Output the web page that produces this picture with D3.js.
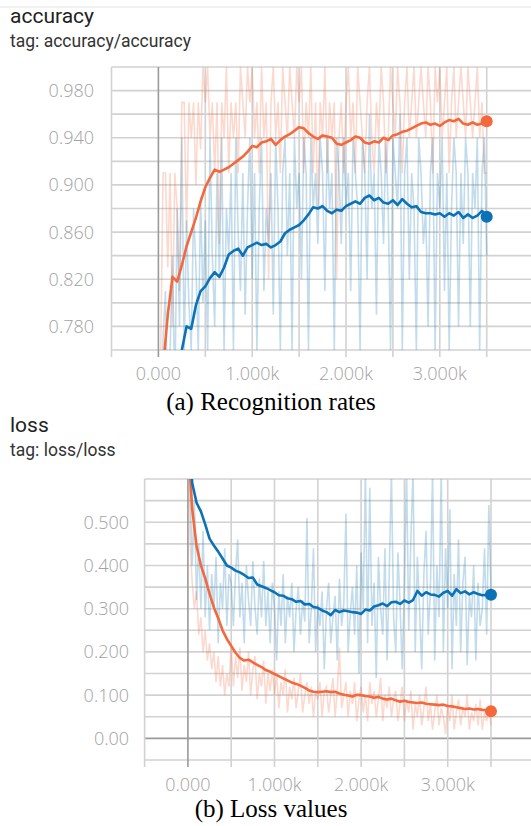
<!DOCTYPE html>
<html>
<head>
<meta charset="utf-8">
<script src="https://cdn.jsdelivr.net/npm/d3@7"></script>
<style>
  body { margin: 0; background: #fff; }
  svg { display: block; }
</style>
</head>
<body>
<div id="display-container"></div>
<script>
// training steps: raw points every 25 steps, smoothed every 50
var rawSteps = d3.range(0, 3501, 25);
var smoothSteps = d3.range(0, 3501, 50);

var xTickValues = [0, 1000, 2000, 3000];
var xTickLabels = ["0.000", "1.000k", "2.000k", "3.000k"];

// (a) accuracy
var accTickValues = [0.78, 0.82, 0.86, 0.90, 0.94, 0.98];
var accTickLabels = ["0.780", "0.820", "0.860", "0.900", "0.940", "0.980"];

var accOrangeRaw = [
  0.70, 0.76, 0.91, 0.91, 0.83, 0.91, 0.78, 0.91, 0.88, 0.81, 0.97, 0.97, 0.86, 0.97, 0.94, 0.97, 0.90, 0.97, 0.93, 1.00,
  0.97, 1.00, 0.94, 0.97, 0.91, 0.97, 0.85, 0.97, 0.94, 1.00, 0.91, 0.97, 0.94, 0.97, 0.91, 1.00, 0.97, 0.94, 1.00, 0.97,
  1.00, 0.94, 0.97, 0.91, 1.00, 0.94, 0.97, 0.82, 0.97, 1.00, 0.94, 0.97, 0.91, 1.00, 0.97, 0.94, 1.00, 0.97, 0.94, 1.00,
  0.97, 1.00, 0.91, 0.97, 0.94, 1.00, 0.91, 0.97, 0.88, 0.97, 0.94, 1.00, 0.91, 0.97, 0.94, 0.97, 0.82, 0.94, 0.97, 0.91,
  0.97, 1.00, 0.94, 0.97, 0.91, 1.00, 0.97, 0.94, 0.91, 0.97, 1.00, 0.94, 0.91, 0.97, 0.94, 1.00, 0.97, 0.91, 0.94, 1.00,
  0.97, 0.94, 1.00, 0.97, 0.91, 0.97, 1.00, 0.94, 0.97, 1.00, 0.94, 0.97, 1.00, 0.97, 0.94, 1.00, 0.97, 0.91, 1.00, 0.97,
  1.00, 0.94, 0.97, 1.00, 0.91, 0.97, 1.00, 0.94, 0.97, 1.00, 0.97, 0.94, 1.00, 0.97, 0.94, 0.97, 1.00, 0.94, 0.97, 0.91,
  0.91
];
var accBlueRaw = [
  0.60, 0.66, 0.77, 0.81, 0.70, 0.76, 0.84, 0.72, 0.88, 0.78, 0.94, 0.76, 0.87, 0.80, 0.76, 0.88, 0.83, 0.76, 0.89, 0.80,
  0.87, 0.76, 0.94, 0.84, 0.78, 0.91, 0.82, 0.94, 0.76, 0.88, 0.84, 0.91, 0.76, 0.94, 0.86, 0.81, 0.91, 0.79, 0.88, 0.94,
  0.82, 0.91, 0.76, 0.88, 0.94, 0.81, 0.88, 0.85, 0.91, 0.79, 0.94, 0.88, 0.76, 0.91, 0.94, 0.84, 0.91, 0.76, 0.94, 0.88,
  0.91, 0.82, 0.94, 0.91, 0.76, 0.94, 0.88, 0.91, 0.85, 0.94, 0.91, 0.81, 0.94, 0.88, 0.91, 0.76, 0.94, 0.91, 0.85, 0.94,
  0.88, 0.91, 0.81, 0.94, 0.91, 0.88, 0.76, 0.94, 0.91, 0.82, 0.96, 0.88, 0.91, 0.79, 0.94, 0.91, 0.85, 0.94, 0.88, 0.76,
  0.94, 0.91, 0.88, 0.96, 0.76, 0.91, 0.94, 0.82, 0.91, 0.88, 0.76, 0.94, 0.91, 0.85, 0.88, 0.78, 0.91, 0.94, 0.76, 0.91,
  0.88, 0.94, 0.81, 0.91, 0.76, 0.88, 0.94, 0.91, 0.78, 0.91, 0.85, 0.94, 0.91, 0.78, 0.91, 0.88, 0.94, 0.76, 0.91, 0.94,
  0.84
];
var accOrangeSmooth = [
  0.705, 0.745, 0.790, 0.822, 0.818, 0.832, 0.848, 0.860, 0.872, 0.886,
  0.898, 0.906, 0.913, 0.911, 0.913, 0.915, 0.918, 0.921, 0.924, 0.928,
  0.933, 0.932, 0.936, 0.937, 0.939, 0.934, 0.938, 0.941, 0.943, 0.946,
  0.949, 0.948, 0.944, 0.941, 0.939, 0.942, 0.941, 0.940, 0.935, 0.934,
  0.936, 0.938, 0.941, 0.940, 0.936, 0.935, 0.937, 0.936, 0.940, 0.938,
  0.942, 0.943, 0.945, 0.946, 0.948, 0.950, 0.952, 0.953, 0.951, 0.952,
  0.950, 0.953, 0.955, 0.954, 0.956, 0.952, 0.951, 0.953, 0.951, 0.952,
  0.954
];
var accBlueSmooth = [
  0.660, 0.690, 0.715, 0.735, 0.750, 0.760, 0.780, 0.778, 0.798, 0.810,
  0.814, 0.821, 0.826, 0.822, 0.830, 0.841, 0.844, 0.846, 0.840, 0.847,
  0.849, 0.851, 0.849, 0.850, 0.847, 0.849, 0.852, 0.859, 0.862, 0.864,
  0.866, 0.870, 0.875, 0.881, 0.880, 0.882, 0.878, 0.876, 0.879, 0.878,
  0.882, 0.884, 0.886, 0.884, 0.889, 0.891, 0.887, 0.889, 0.885, 0.884,
  0.887, 0.883, 0.888, 0.884, 0.881, 0.882, 0.877, 0.876, 0.876, 0.875,
  0.876, 0.873, 0.876, 0.874, 0.877, 0.872, 0.875, 0.872, 0.874, 0.878,
  0.873
];

// (b) loss
var lossTickValues = [0, 0.1, 0.2, 0.3, 0.4, 0.5];
var lossTickLabels = ["0.00", "0.100", "0.200", "0.300", "0.400", "0.500"];

var lossBlueRaw = [
  0.80, 0.58, 0.40, 0.55, 0.32, 0.45, 0.30, 0.48, 0.28, 0.40, 0.25, 0.38, 0.30, 0.42, 0.22, 0.36, 0.30, 0.44, 0.26, 0.38,
  0.36, 0.26, 0.38, 0.46, 0.28, 0.36, 0.22, 0.40, 0.32, 0.26, 0.41, 0.30, 0.24, 0.37, 0.28, 0.41, 0.26, 0.34, 0.22, 0.36,
  0.30, 0.18, 0.34, 0.26, 0.38, 0.22, 0.33, 0.28, 0.36, 0.20, 0.30, 0.35, 0.24, 0.32, 0.27, 0.51, 0.22, 0.30, 0.44, 0.20,
  0.31, 0.26, 0.34, 0.16, 0.30, 0.36, 0.22, 0.28, 0.33, 0.18, 0.37, 0.26, 0.31, 0.52, 0.20, 0.29, 0.35, 0.24, 0.40, 0.15,
  0.43, 0.30, 0.62, 0.22, 0.58, 0.26, 0.36, 0.14, 0.42, 0.30, 0.24, 0.44, 0.18, 0.38, 0.62, 0.28, 0.20, 0.43, 0.31, 0.16,
  0.36, 0.62, 0.25, 0.46, 0.62, 0.20, 0.42, 0.30, 0.16, 0.38, 0.48, 0.24, 0.34, 0.62, 0.18, 0.40, 0.28, 0.62, 0.20, 0.44,
  0.30, 0.53, 0.16, 0.38, 0.26, 0.46, 0.20, 0.36, 0.42, 0.17, 0.33, 0.28, 0.40, 0.18, 0.36, 0.26, 0.30, 0.44, 0.24, 0.54,
  0.34
];
var lossOrangeRaw = [
  0.75, 0.45, 0.36, 0.30, 0.34, 0.24, 0.28, 0.20, 0.25, 0.18, 0.22, 0.16, 0.20, 0.13, 0.19, 0.12, 0.17, 0.10, 0.15, 0.12,
  0.22, 0.12, 0.19, 0.14, 0.21, 0.11, 0.17, 0.13, 0.20, 0.10, 0.16, 0.19, 0.09, 0.15, 0.12, 0.18, 0.08, 0.15, 0.11, 0.16,
  0.10, 0.15, 0.07, 0.13, 0.10, 0.16, 0.06, 0.12, 0.09, 0.14, 0.07, 0.11, 0.15, 0.06, 0.10, 0.13, 0.08, 0.12, 0.05, 0.11,
  0.09, 0.13, 0.05, 0.11, 0.12, 0.06, 0.10, 0.14, 0.05, 0.11, 0.21, 0.07, 0.10, 0.13, 0.05, 0.11, 0.08, 0.13, 0.04, 0.09,
  0.12, 0.06, 0.10, 0.04, 0.13, 0.08, 0.11, 0.05, 0.09, 0.14, 0.04, 0.10, 0.07, 0.12, 0.05, 0.09, 0.11, 0.04, 0.08, 0.12,
  0.04, 0.09, 0.06, 0.11, 0.02, 0.08, 0.05, 0.10, 0.03, 0.07, 0.12, 0.04, 0.08, 0.02, 0.06, 0.10, 0.03, 0.07, 0.05, 0.01,
  0.08, 0.04, 0.10, 0.02, 0.06, 0.09, 0.03, 0.07, 0.05, 0.10, 0.02, 0.06, 0.04, 0.08, 0.03, 0.09, 0.02, 0.06, 0.04, 0.07,
  0.03
];
var lossBlueSmooth = [
  0.750, 0.590, 0.545, 0.525, 0.495, 0.462, 0.446, 0.432, 0.416, 0.400,
  0.395, 0.388, 0.384, 0.378, 0.371, 0.372, 0.356, 0.352, 0.348, 0.343,
  0.338, 0.331, 0.330, 0.324, 0.322, 0.316, 0.318, 0.310, 0.311, 0.304,
  0.302, 0.296, 0.292, 0.285, 0.297, 0.292, 0.296, 0.294, 0.292, 0.291,
  0.288, 0.298, 0.296, 0.305, 0.308, 0.312, 0.306, 0.315, 0.316, 0.311,
  0.319, 0.314, 0.320, 0.341, 0.330, 0.338, 0.333, 0.332, 0.328, 0.337,
  0.341, 0.330, 0.345, 0.336, 0.340, 0.333, 0.338, 0.334, 0.331, 0.332,
  0.332
];
var lossOrangeSmooth = [
  0.700, 0.530, 0.445, 0.400, 0.370, 0.335, 0.303, 0.278, 0.250, 0.230,
  0.214, 0.198, 0.186, 0.180, 0.182, 0.176, 0.170, 0.165, 0.158, 0.154,
  0.149, 0.144, 0.139, 0.134, 0.129, 0.126, 0.122, 0.117, 0.111, 0.108,
  0.107, 0.108, 0.109, 0.107, 0.108, 0.104, 0.101, 0.099, 0.097, 0.101,
  0.100, 0.098, 0.097, 0.094, 0.096, 0.092, 0.090, 0.092, 0.088, 0.085,
  0.087, 0.084, 0.083, 0.082, 0.083, 0.080, 0.079, 0.078, 0.077, 0.078,
  0.075, 0.074, 0.072, 0.070, 0.068, 0.069, 0.067, 0.068, 0.066, 0.065,
  0.063
];

var orange = "#f4683c";
var blue = "#0a72b5";

var width = 531, height = 826;
var svg = d3.select("#display-container").append("svg")
    .attr("width", width)
    .attr("height", height);

// faint rule at the very top
svg.append("line")
    .attr("x1", 0).attr("x2", width)
    .attr("y1", 7).attr("y2", 7)
    .style("stroke", "#e4e4e4").style("stroke-width", 1);

function panel(opt) {
    var x = d3.scaleLinear().domain([-500, 3500]).range([opt.left, opt.xEnd]);
    var y = d3.scaleLinear().domain(opt.yDomain).range([opt.bottom, opt.top]);
    var g = svg.append("g");

    // header
    g.append("text")
        .attr("x", 10).attr("y", opt.titleY)
        .style("font-family", "Roboto, sans-serif")
        .style("font-size", "21px")
        .style("fill", "#222")
        .text(opt.title);
    g.append("text")
        .attr("x", 10).attr("y", opt.titleY + 24)
        .style("font-family", "Roboto, sans-serif")
        .style("font-size", "17.5px")
        .style("fill", "#333")
        .text(opt.tag);

    var clipId = "clip-" + opt.id;
    g.append("clipPath").attr("id", clipId)
      .append("rect")
        .attr("x", opt.left).attr("y", opt.top)
        .attr("width", width - opt.left).attr("height", opt.bottom - opt.top);

    // grid
    g.selectAll(".hgrid")
        .data(opt.hGrid)
        .enter().append("line")
        .attr("x1", opt.left).attr("x2", width)
        .attr("y1", function(d) { return y(d); })
        .attr("y2", function(d) { return y(d); })
        .style("stroke", function(d) { return Math.abs(d) < 1e-9 ? "#9a9a9a" : "#d2d2d2"; })
        .style("stroke-width", 1.6);

    g.selectAll(".vgrid")
        .data(d3.range(-500, 3501, 500))
        .enter().append("line")
        .attr("x1", function(d) { return x(d); })
        .attr("x2", function(d) { return x(d); })
        .attr("y1", opt.top).attr("y2", opt.bottom + 7)
        .style("stroke", function(d) { return d === 0 ? "#9a9a9a" : "#d2d2d2"; })
        .style("stroke-width", 1.6);

    // tick labels
    g.selectAll(".ylab")
        .data(opt.yTicks)
        .enter().append("text")
        .attr("x", opt.labelRight)
        .attr("y", function(d) { return y(d); })
        .attr("dy", "0.36em")
        .style("text-anchor", "end")
        .style("font-family", "'Open Sans', sans-serif")
        .style("font-weight", 300)
        .style("font-size", "18px")
        .style("fill", "#a2a2a2")
        .text(function(d, i) { return opt.yLabels[i]; });

    g.selectAll(".xlab")
        .data(xTickValues)
        .enter().append("text")
        .attr("x", function(d) { return x(d); })
        .attr("y", opt.xLabelY)
        .style("text-anchor", "middle")
        .style("font-family", "'Open Sans', sans-serif")
        .style("font-weight", 300)
        .style("font-size", "18px")
        .style("fill", "#a2a2a2")
        .text(function(d, i) { return xTickLabels[i]; });

    // caption
    g.append("text")
        .attr("x", 271).attr("y", opt.captionY)
        .style("text-anchor", "middle")
        .style("font-family", "'Liberation Serif', 'Times New Roman', serif")
        .style("font-size", "25px")
        .style("fill", "#000")
        .text(opt.caption);

    var plot = g.append("g").attr("clip-path", "url(#" + clipId + ")");
    var line = d3.line()
        .x(function(d) { return x(d[0]); })
        .y(function(d) { return y(d[1]); });

    function pairs(steps, vals) {
        return vals.map(function(v, i) { return [steps[i], v]; });
    }

    opt.series.forEach(function(s) {
        plot.append("path")
            .datum(pairs(rawSteps, s.raw))
            .attr("d", line)
            .style("fill", "none")
            .style("stroke", s.color)
            .style("stroke-opacity", 0.25)
            .style("stroke-width", 1.6);
    });
    opt.series.forEach(function(s) {
        var pts = pairs(smoothSteps, s.smooth);
        plot.append("path")
            .datum(pts)
            .attr("d", line)
            .style("fill", "none")
            .style("stroke", s.color)
            .style("stroke-width", 2.6)
            .style("stroke-linejoin", "round");
        var last = pts[pts.length - 1];
        g.append("circle")
            .attr("cx", x(last[0])).attr("cy", y(last[1]))
            .attr("r", 6)
            .style("fill", s.color);
    });
}

panel({
    id: "acc",
    title: "accuracy", tag: "tag: accuracy/accuracy", titleY: 23,
    left: 111.5, xEnd: 486.7, top: 67, bottom: 350,
    yDomain: [0.76, 1.0],
    hGrid: d3.range(0.76, 1.0001, 0.02),
    yTicks: accTickValues, yLabels: accTickLabels, labelRight: 94,
    xLabelY: 380, captionY: 410,
    caption: "(a) Recognition rates",
    series: [
        { raw: accOrangeRaw, smooth: accOrangeSmooth, color: orange },
        { raw: accBlueRaw, smooth: accBlueSmooth, color: blue }
    ]
});

panel({
    id: "loss",
    title: "loss", tag: "tag: loss/loss", titleY: 432,
    left: 144.6, xEnd: 491, top: 479, bottom: 760,
    yDomain: [-0.05, 0.6],
    hGrid: d3.range(-0.05, 0.6001, 0.05).map(function(v) { return Math.round(v * 100) / 100; }),
    yTicks: lossTickValues, yLabels: lossTickLabels, labelRight: 129,
    xLabelY: 791, captionY: 817,
    caption: "(b) Loss values",
    series: [
        { raw: lossOrangeRaw, smooth: lossOrangeSmooth, color: orange },
        { raw: lossBlueRaw, smooth: lossBlueSmooth, color: blue }
    ]
});
</script>
</body>
</html>
